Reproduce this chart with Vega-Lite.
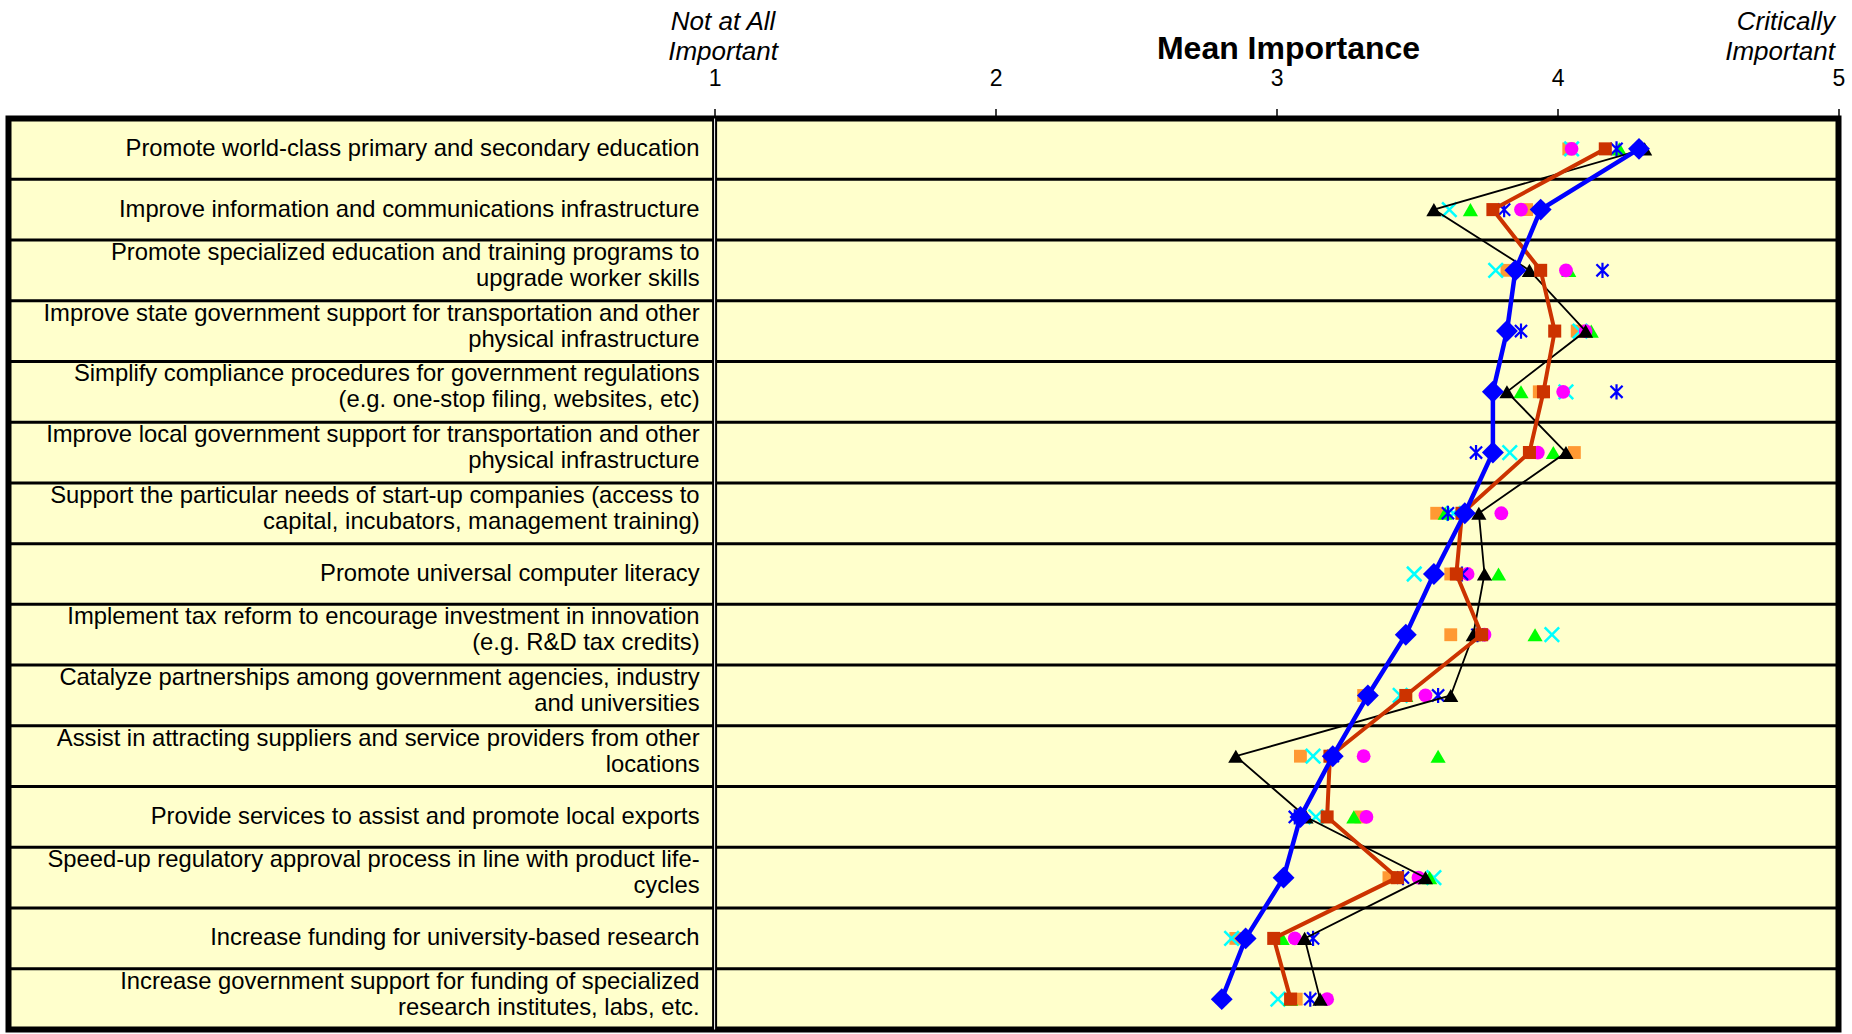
{
  "$schema": "https://vega.github.io/schema/vega-lite/v6.json",
  "width": 1830,
  "height": 911,
  "autosize": "none",
  "padding": {"left": 8.5, "top": 118.5, "right": 13.5, "bottom": 4.5},
  "background": "white",
  "config": {
    "font": "Liberation Sans",
    "view": {"fill": "#FFFFCC", "stroke": "black", "strokeWidth": 6},
    "axis": {"labelFont": "Liberation Sans", "titleFont": "Liberation Sans"}
  },
  "resolve": {"axis": {"x": "independent"}},
  "datasets": {
    "rows": [
      {"row": 1, "label": "Promote world-class primary and secondary education"},
      {"row": 2, "label": "Improve information and communications infrastructure"},
      {"row": 3, "label": "Promote specialized education and training programs to\nupgrade worker skills"},
      {"row": 4, "label": "Improve state government support for transportation and other\nphysical infrastructure"},
      {"row": 5, "label": "Simplify compliance procedures for government regulations\n(e.g. one-stop filing, websites, etc)"},
      {"row": 6, "label": "Improve local government support for transportation and other\nphysical infrastructure"},
      {"row": 7, "label": "Support the particular needs of start-up companies (access to\ncapital, incubators, management training)"},
      {"row": 8, "label": "Promote universal computer literacy"},
      {"row": 9, "label": "Implement tax reform to encourage investment in innovation\n(e.g. R&D tax credits)"},
      {"row": 10, "label": "Catalyze partnerships among government agencies, industry\nand universities"},
      {"row": 11, "label": "Assist in attracting suppliers and service providers from other\nlocations"},
      {"row": 12, "label": "Provide services to assist and promote local exports"},
      {"row": 13, "label": "Speed-up regulatory approval process in line with product life-\ncycles"},
      {"row": 14, "label": "Increase funding for university-based research"},
      {"row": 15, "label": "Increase government support for funding of specialized\nresearch institutes, labs, etc."}
    ],
    "points": [
      {"row": 1, "series": "Overall", "value": 4.29},
      {"row": 2, "series": "Overall", "value": 3.94},
      {"row": 3, "series": "Overall", "value": 3.85},
      {"row": 4, "series": "Overall", "value": 3.82},
      {"row": 5, "series": "Overall", "value": 3.77},
      {"row": 6, "series": "Overall", "value": 3.77},
      {"row": 7, "series": "Overall", "value": 3.67},
      {"row": 8, "series": "Overall", "value": 3.56},
      {"row": 9, "series": "Overall", "value": 3.46},
      {"row": 10, "series": "Overall", "value": 3.325},
      {"row": 11, "series": "Overall", "value": 3.2},
      {"row": 12, "series": "Overall", "value": 3.085},
      {"row": 13, "series": "Overall", "value": 3.025},
      {"row": 14, "series": "Overall", "value": 2.89},
      {"row": 15, "series": "Overall", "value": 2.805},
      {"row": 1, "series": "Group A", "value": 4.17},
      {"row": 2, "series": "Group A", "value": 3.77},
      {"row": 3, "series": "Group A", "value": 3.94},
      {"row": 4, "series": "Group A", "value": 3.99},
      {"row": 5, "series": "Group A", "value": 3.95},
      {"row": 6, "series": "Group A", "value": 3.9},
      {"row": 7, "series": "Group A", "value": 3.66},
      {"row": 8, "series": "Group A", "value": 3.64},
      {"row": 9, "series": "Group A", "value": 3.73},
      {"row": 10, "series": "Group A", "value": 3.46},
      {"row": 11, "series": "Group A", "value": 3.19},
      {"row": 12, "series": "Group A", "value": 3.18},
      {"row": 13, "series": "Group A", "value": 3.43},
      {"row": 14, "series": "Group A", "value": 2.99},
      {"row": 15, "series": "Group A", "value": 3.05},
      {"row": 1, "series": "Group B", "value": 4.31},
      {"row": 2, "series": "Group B", "value": 3.56},
      {"row": 3, "series": "Group B", "value": 3.9},
      {"row": 4, "series": "Group B", "value": 4.1},
      {"row": 5, "series": "Group B", "value": 3.82},
      {"row": 6, "series": "Group B", "value": 4.03},
      {"row": 7, "series": "Group B", "value": 3.72},
      {"row": 8, "series": "Group B", "value": 3.74},
      {"row": 9, "series": "Group B", "value": 3.7},
      {"row": 10, "series": "Group B", "value": 3.62},
      {"row": 11, "series": "Group B", "value": 2.855},
      {"row": 12, "series": "Group B", "value": 3.105},
      {"row": 13, "series": "Group B", "value": 3.53},
      {"row": 14, "series": "Group B", "value": 3.1},
      {"row": 15, "series": "Group B", "value": 3.155},
      {"row": 1, "series": "Group C", "value": 4.22},
      {"row": 2, "series": "Group C", "value": 3.69},
      {"row": 3, "series": "Group C", "value": 4.04},
      {"row": 4, "series": "Group C", "value": 4.12},
      {"row": 5, "series": "Group C", "value": 3.87},
      {"row": 6, "series": "Group C", "value": 3.985},
      {"row": 7, "series": "Group C", "value": 3.6},
      {"row": 8, "series": "Group C", "value": 3.79},
      {"row": 9, "series": "Group C", "value": 3.92},
      {"row": 10, "series": "Group C", "value": 3.46},
      {"row": 11, "series": "Group C", "value": 3.575},
      {"row": 12, "series": "Group C", "value": 3.275},
      {"row": 13, "series": "Group C", "value": 3.545},
      {"row": 14, "series": "Group C", "value": 3.02},
      {"row": 15, "series": "Group C", "value": 3.05},
      {"row": 1, "series": "Group D", "value": 4.05},
      {"row": 2, "series": "Group D", "value": 3.87},
      {"row": 3, "series": "Group D", "value": 4.03},
      {"row": 4, "series": "Group D", "value": 4.1},
      {"row": 5, "series": "Group D", "value": 4.02},
      {"row": 6, "series": "Group D", "value": 3.93},
      {"row": 7, "series": "Group D", "value": 3.8},
      {"row": 8, "series": "Group D", "value": 3.68},
      {"row": 9, "series": "Group D", "value": 3.74},
      {"row": 10, "series": "Group D", "value": 3.53},
      {"row": 11, "series": "Group D", "value": 3.31},
      {"row": 12, "series": "Group D", "value": 3.32},
      {"row": 13, "series": "Group D", "value": 3.505},
      {"row": 14, "series": "Group D", "value": 3.065},
      {"row": 15, "series": "Group D", "value": 3.18},
      {"row": 1, "series": "Group E", "value": 4.05},
      {"row": 2, "series": "Group E", "value": 3.615},
      {"row": 3, "series": "Group E", "value": 3.78},
      {"row": 4, "series": "Group E", "value": 4.08},
      {"row": 5, "series": "Group E", "value": 4.03},
      {"row": 6, "series": "Group E", "value": 3.83},
      {"row": 7, "series": "Group E", "value": 3.63},
      {"row": 8, "series": "Group E", "value": 3.49},
      {"row": 9, "series": "Group E", "value": 3.98},
      {"row": 10, "series": "Group E", "value": 3.44},
      {"row": 11, "series": "Group E", "value": 3.13},
      {"row": 12, "series": "Group E", "value": 3.14},
      {"row": 13, "series": "Group E", "value": 3.56},
      {"row": 14, "series": "Group E", "value": 2.84},
      {"row": 15, "series": "Group E", "value": 3.005},
      {"row": 1, "series": "Group F", "value": 4.21},
      {"row": 2, "series": "Group F", "value": 3.81},
      {"row": 3, "series": "Group F", "value": 4.16},
      {"row": 4, "series": "Group F", "value": 3.87},
      {"row": 5, "series": "Group F", "value": 4.21},
      {"row": 6, "series": "Group F", "value": 3.71},
      {"row": 7, "series": "Group F", "value": 3.61},
      {"row": 8, "series": "Group F", "value": 3.66},
      {"row": 9, "series": "Group F", "value": 3.715},
      {"row": 10, "series": "Group F", "value": 3.575},
      {"row": 11, "series": "Group F", "value": 3.2},
      {"row": 12, "series": "Group F", "value": 3.065},
      {"row": 13, "series": "Group F", "value": 3.45},
      {"row": 14, "series": "Group F", "value": 3.13},
      {"row": 15, "series": "Group F", "value": 3.12},
      {"row": 1, "series": "Group G", "value": 4.04},
      {"row": 2, "series": "Group G", "value": 3.89},
      {"row": 3, "series": "Group G", "value": 3.82},
      {"row": 4, "series": "Group G", "value": 4.07},
      {"row": 5, "series": "Group G", "value": 3.935},
      {"row": 6, "series": "Group G", "value": 4.06},
      {"row": 7, "series": "Group G", "value": 3.57},
      {"row": 8, "series": "Group G", "value": 3.62},
      {"row": 9, "series": "Group G", "value": 3.62},
      {"row": 10, "series": "Group G", "value": 3.31},
      {"row": 11, "series": "Group G", "value": 3.085},
      {"row": 12, "series": "Group G", "value": 3.3},
      {"row": 13, "series": "Group G", "value": 3.4},
      {"row": 14, "series": "Group G", "value": 2.855},
      {"row": 15, "series": "Group G", "value": 3.07}
    ]
  },
  "layer": [
    {
      "data": {"name": "rows"},
      "mark": {"type": "rule", "color": "black", "strokeWidth": 3},
      "encoding": {
        "y": {"field": "row", "type": "ordinal", "bandPosition": 0, "scale": {"type": "band", "paddingInner": 0, "paddingOuter": 0}, "axis": null}
      }
    },
    {
      "data": {"values": [{"edge": "divider"}]},
      "mark": {"type": "rule", "color": "black", "strokeWidth": 5},
      "encoding": {
        "x": {
          "datum": 1, "type": "quantitative",
          "scale": {"domain": [-1.513, 5], "nice": false, "zero": false},
          "axis": {
            "orient": "top", "values": [1, 5], "title": null,
            "labelExpr": "datum.value == 1 ? ['Not at All', 'Important'] : ['Critically', 'Important']",
            "labelFontSize": 26, "labelFontStyle": "italic", "labelLineHeight": 30, "labelColor": "black",
            "labelBaseline": "alphabetic", "labelPadding": 89,
            "labelAlign": {"condition": {"test": "datum.value == 5", "value": "right"}, "value": "center"},
            "labelOffset": {"condition": {"test": "datum.value == 5", "value": -4}, "value": 8},
            "ticks": false, "tickSize": 0, "domain": false, "grid": false,
            "labelFlush": false, "labelOverlap": false, "labelBound": false
          }
        }
      }
    },
    {
      "data": {"values": [{"edge": "divider"}]},
      "mark": {"type": "rule", "color": "white", "strokeWidth": 1},
      "encoding": {"x": {"datum": 1, "type": "quantitative", "axis": null}}
    },
    {
      "data": {"name": "rows"},
      "transform": [{"filter": "indexof(datum.label, '\\n') < 0"}],
      "mark": {"type": "text", "align": "right", "baseline": "middle", "fontSize": 23.8, "dx": -15, "color": "black", "font": "Liberation Sans"},
      "encoding": {
        "x": {"datum": 1, "type": "quantitative", "axis": null},
        "y": {"field": "row", "type": "ordinal", "axis": null},
        "text": {"field": "label"}
      }
    },
    {
      "data": {"name": "rows"},
      "transform": [{"filter": "indexof(datum.label, '\\n') >= 0"}],
      "mark": {"type": "text", "align": "right", "baseline": "middle", "fontSize": 23.8, "lineBreak": "\n", "lineHeight": 26, "dx": -15, "dy": -17.5, "color": "black", "font": "Liberation Sans"},
      "encoding": {
        "x": {"datum": 1, "type": "quantitative", "axis": null},
        "y": {"field": "row", "type": "ordinal", "axis": null},
        "text": {"field": "label"}
      }
    },
    {
      "data": {"name": "points"},
      "transform": [{"filter": "datum.series == 'Group G'"}],
      "mark": {"type": "point", "shape": "square", "filled": true, "color": "#FF9933", "size": 165, "opacity": 1},
      "encoding": {
        "x": {
          "field": "value", "type": "quantitative",
          "axis": {
            "orient": "top", "values": [1, 2, 3, 4, 5], "format": "d",
            "title": "Mean Importance", "titleFontSize": 32, "titleFontWeight": "bold", "titleColor": "black",
            "titleX": 1279.5, "titleY": -60, "titleBaseline": "alphabetic", "titleAlign": "center",
            "labelFontSize": 23, "labelColor": "black", "labelPadding": 23.5, "labelBaseline": "alphabetic",
            "labelFlush": false, "labelOverlap": false, "labelBound": false,
            "tickSize": 10, "tickColor": "black", "tickWidth": 1.5, "domain": false, "grid": false
          }
        },
        "y": {"field": "row", "type": "ordinal", "axis": null}
      }
    },
    {
      "data": {"name": "points"},
      "transform": [{"filter": "datum.series == 'Group E'"}],
      "mark": {"type": "point", "shape": "M-1,-1L1,1M-1,1L1,-1", "filled": false, "color": "#00FFFF", "strokeWidth": 2.5, "size": 210, "opacity": 1},
      "encoding": {
        "x": {"field": "value", "type": "quantitative", "axis": null},
        "y": {"field": "row", "type": "ordinal", "axis": null}
      }
    },
    {
      "data": {"name": "points"},
      "transform": [{"filter": "datum.series == 'Group C'"}],
      "mark": {"type": "point", "shape": "triangle-up", "filled": true, "color": "#00FF00", "size": 230, "opacity": 1},
      "encoding": {
        "x": {"field": "value", "type": "quantitative", "axis": null},
        "y": {"field": "row", "type": "ordinal", "axis": null}
      }
    },
    {
      "data": {"name": "points"},
      "transform": [{"filter": "datum.series == 'Group D'"}],
      "mark": {"type": "point", "shape": "circle", "filled": true, "color": "#FF00FF", "size": 190, "opacity": 1},
      "encoding": {
        "x": {"field": "value", "type": "quantitative", "axis": null},
        "y": {"field": "row", "type": "ordinal", "axis": null}
      }
    },
    {
      "data": {"name": "points"},
      "transform": [{"filter": "datum.series == 'Group F'"}],
      "mark": {"type": "point", "shape": "M-0.8,-0.8L0.8,0.8M-0.8,0.8L0.8,-0.8M0,-1L0,1", "filled": false, "color": "#0000FF", "strokeWidth": 2.2, "size": 230, "opacity": 1},
      "encoding": {
        "x": {"field": "value", "type": "quantitative", "axis": null},
        "y": {"field": "row", "type": "ordinal", "axis": null}
      }
    },
    {
      "data": {"name": "points"},
      "transform": [{"filter": "datum.series == 'Group B'"}],
      "mark": {"type": "line", "color": "black", "strokeWidth": 1.8},
      "encoding": {
        "x": {"field": "value", "type": "quantitative", "axis": null},
        "y": {"field": "row", "type": "ordinal", "axis": null},
        "order": {"field": "row", "type": "quantitative"}
      }
    },
    {
      "data": {"name": "points"},
      "transform": [{"filter": "datum.series == 'Group B'"}],
      "mark": {"type": "point", "shape": "triangle-up", "filled": true, "color": "black", "size": 230, "opacity": 1},
      "encoding": {
        "x": {"field": "value", "type": "quantitative", "axis": null},
        "y": {"field": "row", "type": "ordinal", "axis": null}
      }
    },
    {
      "data": {"name": "points"},
      "transform": [{"filter": "datum.series == 'Group A'"}],
      "mark": {"type": "line", "color": "#CC3300", "strokeWidth": 4},
      "encoding": {
        "x": {"field": "value", "type": "quantitative", "axis": null},
        "y": {"field": "row", "type": "ordinal", "axis": null},
        "order": {"field": "row", "type": "quantitative"}
      }
    },
    {
      "data": {"name": "points"},
      "transform": [{"filter": "datum.series == 'Group A'"}],
      "mark": {"type": "point", "shape": "square", "filled": true, "color": "#CC3300", "size": 170, "opacity": 1},
      "encoding": {
        "x": {"field": "value", "type": "quantitative", "axis": null},
        "y": {"field": "row", "type": "ordinal", "axis": null}
      }
    },
    {
      "data": {"name": "points"},
      "transform": [{"filter": "datum.series == 'Overall'"}],
      "mark": {"type": "line", "color": "#0000FF", "strokeWidth": 4.5},
      "encoding": {
        "x": {"field": "value", "type": "quantitative", "axis": null},
        "y": {"field": "row", "type": "ordinal", "axis": null},
        "order": {"field": "row", "type": "quantitative"}
      }
    },
    {
      "data": {"name": "points"},
      "transform": [{"filter": "datum.series == 'Overall'"}],
      "mark": {"type": "point", "shape": "diamond", "filled": true, "color": "#0000FF", "size": 480, "opacity": 1},
      "encoding": {
        "x": {"field": "value", "type": "quantitative", "axis": null},
        "y": {"field": "row", "type": "ordinal", "axis": null}
      }
    }
  ]
}
